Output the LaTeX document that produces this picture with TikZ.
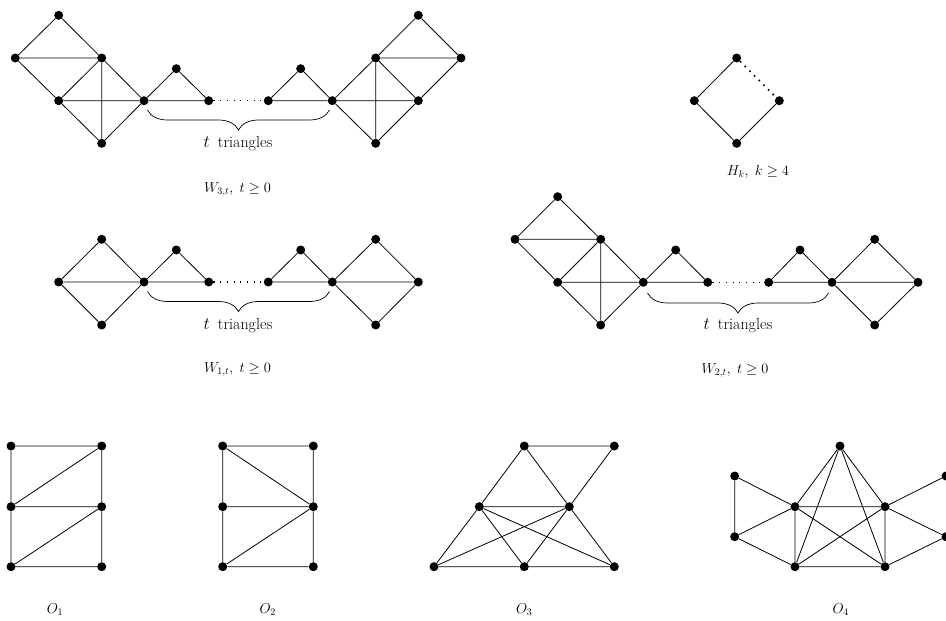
\documentclass[tikz,border=0pt]{standalone}
\usetikzlibrary{decorations.pathreplacing}
\begin{document}
\begin{tikzpicture}[x=1pt,y=-1pt,
  vx/.style={circle,fill=black,inner sep=0pt,minimum size=9pt},
  edge/.style={line width=0.8pt},
  dotline/.style={line width=1.1pt,dash pattern=on 1.1pt off 5.6pt},
  hdot/.style={line width=1.6pt,dash pattern=on 1.6pt off 5pt},
  bracestyle/.style={line width=0.7pt,decorate,decoration={brace,mirror,amplitude=20pt}},
  ttext/.style={anchor=base,font=\fontsize{16}{19}\selectfont},
  lbl/.style={anchor=base,font=\fontsize{14.5}{17}\selectfont}]
\useasboundingbox (0,0) rectangle (946,621);

% ---------- W_{3,t} ----------
\node[vx] (w3a) at (58.7,15.3) {};
\node[vx] (w3b) at (15.3,58) {};
\node[vx] (w3c) at (101.7,58) {};
\node[vx] (w3d) at (58.7,100.7) {};
\node[vx] (w3e) at (144,100.7) {};
\node[vx] (w3f) at (101.7,143.3) {};
\node[vx] (w3t1) at (176.3,68.7) {};
\node[vx] (w3g) at (208.7,100.7) {};
\node[vx] (w3h) at (268.3,100.7) {};
\node[vx] (w3t2) at (300.7,68.7) {};
\node[vx] (w3i) at (332.3,100.7) {};
\node[vx] (w3j) at (375.7,58) {};
\node[vx] (w3k) at (418.3,15.3) {};
\node[vx] (w3l) at (461,58) {};
\node[vx] (w3m) at (418.3,100.7) {};
\node[vx] (w3n) at (375.7,143.3) {};
\draw[edge] (w3a)--(w3b) (w3a)--(w3c) (w3b)--(w3c) (w3b)--(w3d) (w3c)--(w3d)
  (w3c)--(w3e) (w3c)--(w3f) (w3d)--(w3e) (w3d)--(w3f) (w3e)--(w3f)
  (w3e)--(w3t1) (w3t1)--(w3g) (w3e)--(w3g)
  (w3h)--(w3t2) (w3t2)--(w3i) (w3h)--(w3i)
  (w3i)--(w3j) (w3i)--(w3m) (w3i)--(w3n) (w3j)--(w3k) (w3k)--(w3l) (w3j)--(w3l)
  (w3j)--(w3m) (w3j)--(w3n) (w3l)--(w3m) (w3m)--(w3n);
\draw[dotline] (w3g)--(w3h);
\coordinate (w3bs) at (147.5,110);
\coordinate (w3be) at (329.5,110);
\draw[bracestyle] (w3bs)--(w3be);
\node[ttext] (w3tt) at (238,147.5) {$t$\hspace{0.5em}triangles};
\node[lbl] (w3lab) at (237.5,192) {$W_{3,t},\; t\geq 0$};

% ---------- H_k ----------
\node[vx] (hk1) at (736.7,58) {};
\node[vx] (hk2) at (694.3,100.7) {};
\node[vx] (hk3) at (779.3,100.7) {};
\node[vx] (hk4) at (736.7,143.3) {};
\draw[edge] (hk1)--(hk2) (hk2)--(hk4) (hk4)--(hk3);
\draw[hdot] (hk1)--(hk3);
\node[lbl] (hklab) at (758,175) {$H_k,\; k\geq 4$};

% ---------- W_{1,t} ----------
\node[vx] (w1a) at (58.7,282) {};
\node[vx] (w1b) at (101.7,239.3) {};
\node[vx] (w1c) at (101.7,325) {};
\node[vx] (w1d) at (144,282) {};
\node[vx] (w1t1) at (176.3,250) {};
\node[vx] (w1e) at (208.7,282) {};
\node[vx] (w1f) at (268.3,282) {};
\node[vx] (w1t2) at (300.7,250) {};
\node[vx] (w1g) at (332.3,282) {};
\node[vx] (w1h) at (375.7,239.3) {};
\node[vx] (w1i) at (375.7,325) {};
\node[vx] (w1j) at (418.3,282) {};
\draw[edge] (w1a)--(w1b) (w1a)--(w1c) (w1a)--(w1d) (w1b)--(w1d) (w1c)--(w1d)
  (w1d)--(w1t1) (w1t1)--(w1e) (w1d)--(w1e)
  (w1f)--(w1t2) (w1t2)--(w1g) (w1f)--(w1g)
  (w1g)--(w1h) (w1g)--(w1i) (w1g)--(w1j) (w1h)--(w1j) (w1i)--(w1j);
\draw[dotline] (w1e)--(w1f);
\coordinate (w1bs) at (147.5,291.5);
\coordinate (w1be) at (329.5,291.5);
\draw[bracestyle] (w1bs)--(w1be);
\node[ttext] (w1tt) at (238,329) {$t$\hspace{0.5em}triangles};
\node[lbl] (w1lab) at (237.5,372) {$W_{1,t},\; t\geq 0$};

% ---------- W_{2,t} ----------
\node[vx] (w2a) at (557.7,196.7) {};
\node[vx] (w2b) at (515,239.3) {};
\node[vx] (w2c) at (600.7,239.3) {};
\node[vx] (w2d) at (557.7,282.3) {};
\node[vx] (w2e) at (643.3,282.3) {};
\node[vx] (w2f) at (600.7,325) {};
\node[vx] (w2t1) at (675.7,250) {};
\node[vx] (w2g) at (707.7,282.3) {};
\node[vx] (w2h) at (768.7,282.3) {};
\node[vx] (w2t2) at (800,250) {};
\node[vx] (w2i) at (832,282.3) {};
\node[vx] (w2j) at (874.7,239.3) {};
\node[vx] (w2k) at (874.7,325) {};
\node[vx] (w2l) at (918,282.3) {};
\draw[edge] (w2a)--(w2b) (w2a)--(w2c) (w2b)--(w2c) (w2b)--(w2d) (w2c)--(w2d)
  (w2c)--(w2e) (w2c)--(w2f) (w2d)--(w2e) (w2d)--(w2f) (w2e)--(w2f)
  (w2e)--(w2t1) (w2t1)--(w2g) (w2e)--(w2g)
  (w2h)--(w2t2) (w2t2)--(w2i) (w2h)--(w2i)
  (w2i)--(w2j) (w2i)--(w2k) (w2i)--(w2l) (w2j)--(w2l) (w2k)--(w2l);
\draw[dotline] (w2g)--(w2h);
\coordinate (w2bs) at (647.5,293);
\coordinate (w2be) at (828.5,293);
\draw[bracestyle] (w2bs)--(w2be);
\node[ttext] (w2tt) at (738,329.5) {$t$\hspace{0.5em}triangles};
\node[lbl] (w2lab) at (735,373) {$W_{2,t},\; t\geq 0$};

% ---------- O_1 ----------
\node[vx] (o1a) at (11,446) {};
\node[vx] (o1b) at (101.7,446) {};
\node[vx] (o1c) at (11,506.7) {};
\node[vx] (o1d) at (101.7,506.7) {};
\node[vx] (o1e) at (11,566.7) {};
\node[vx] (o1f) at (101.7,566.7) {};
\draw[edge] (o1a)--(o1b) (o1a)--(o1c) (o1b)--(o1d) (o1c)--(o1b) (o1c)--(o1d)
  (o1c)--(o1e) (o1d)--(o1f) (o1e)--(o1d) (o1e)--(o1f);
\node[lbl] (o1lab) at (55,613) {$O_1$};

% ---------- O_2 ----------
\node[vx] (o2a) at (222.7,446) {};
\node[vx] (o2b) at (313.3,446) {};
\node[vx] (o2c) at (222.7,506.7) {};
\node[vx] (o2d) at (313.3,506.7) {};
\node[vx] (o2e) at (222.7,566.7) {};
\node[vx] (o2f) at (313.3,566.7) {};
\draw[edge] (o2a)--(o2b) (o2a)--(o2c) (o2b)--(o2d) (o2a)--(o2d) (o2c)--(o2d)
  (o2c)--(o2e) (o2d)--(o2f) (o2e)--(o2d) (o2e)--(o2f);
\node[lbl] (o2lab) at (267.7,613) {$O_2$};

% ---------- O_3 ----------
\node[vx] (o3a) at (524.3,446) {};
\node[vx] (o3b) at (614.3,446) {};
\node[vx] (o3c) at (479.3,506.7) {};
\node[vx] (o3d) at (569.3,506.7) {};
\node[vx] (o3e) at (434,566.7) {};
\node[vx] (o3f) at (524.3,566.7) {};
\node[vx] (o3g) at (614.3,566.7) {};
\draw[edge] (o3a)--(o3b) (o3a)--(o3c) (o3a)--(o3d) (o3b)--(o3d) (o3c)--(o3d)
  (o3c)--(o3e) (o3c)--(o3f) (o3c)--(o3g) (o3d)--(o3e) (o3d)--(o3f) (o3d)--(o3g)
  (o3e)--(o3f) (o3f)--(o3g);
\node[lbl] (o3lab) at (524.3,613) {$O_3$};

% ---------- O_4 ----------
\node[vx] (o4t) at (840,446) {};
\node[vx] (o4a) at (734.7,476) {};
\node[vx] (o4b) at (734.7,536.7) {};
\node[vx] (o4c) at (795,506.7) {};
\node[vx] (o4d) at (885,506.7) {};
\node[vx] (o4e) at (795,566.7) {};
\node[vx] (o4f) at (885,566.7) {};
\node[vx] (o4g) at (946,476) {};
\node[vx] (o4h) at (946,536.7) {};
\draw[edge] (o4a)--(o4b) (o4a)--(o4c) (o4b)--(o4c) (o4b)--(o4e) (o4c)--(o4d)
  (o4c)--(o4e) (o4e)--(o4f) (o4d)--(o4f) (o4t)--(o4c) (o4t)--(o4d) (o4t)--(o4e)
  (o4t)--(o4f) (o4c)--(o4f) (o4e)--(o4d) (o4d)--(o4g) (o4d)--(o4h) (o4f)--(o4h);
\node[lbl] (o4lab) at (840.7,613) {$O_4$};
\end{tikzpicture}
\end{document}
